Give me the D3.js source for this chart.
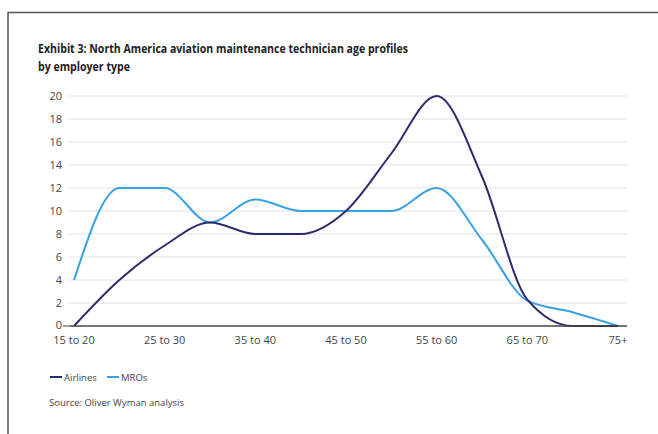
<!DOCTYPE html>
<html>
<head>
<meta charset="utf-8">
<script src="https://cdn.jsdelivr.net/npm/d3@7"></script>
<style>
  body { margin: 0; background: #fff; }
  svg { display: block; font-family: "Open Sans", "Noto Sans", sans-serif; }
</style>
</head>
<body>
<svg id="chart" width="658" height="434"></svg>
<script>
// age bins (every other one gets a label)
var ageBins = ["15 to 20", "20 to 25", "25 to 30", "30 to 35", "35 to 40", "40 to 45",
  "45 to 50", "50 to 55", "55 to 60", "60 to 65", "65 to 70", "70 to 75", "75+"];
var tickLabels = ["15 to 20", "25 to 30", "35 to 40", "45 to 50", "55 to 60", "65 to 70", "75+"];
var airlines = [0, 4, 7, 9, 8, 8, 10, 15, 20, 13, 2.3, 0, 0];
var mros = [4, 12, 12, 9, 11, 10, 10, 10, 12, 7.5, 2.2, 1.2, 0];
var yTicks = [0, 2, 4, 6, 8, 10, 12, 14, 16, 18, 20];

var airlineColour = "#2d2c6c";
var mroColour = "#3aa2e2";

var svg = d3.select("#chart");

// frame
svg.append("path")
  .attr("d", "M8,434 V12.5 H658")
  .attr("fill", "none")
  .attr("stroke", "#555")
  .attr("stroke-width", 1.5);

// title
var title = svg.append("text")
  .attr("x", 38)
  .attr("font-size", 13)
  .attr("font-weight", "bold")
  .attr("fill", "#222");
title.append("tspan").attr("x", 38).attr("y", 53)
  .attr("textLength", 370).attr("lengthAdjust", "spacingAndGlyphs")
  .text("Exhibit 3: North America aviation maintenance technician age profiles");
title.append("tspan").attr("x", 38).attr("y", 71)
  .attr("textLength", 92).attr("lengthAdjust", "spacingAndGlyphs")
  .text("by employer type");

var xScale = d3.scalePoint().domain(ageBins).range([74, 618]);
var yScale = d3.scaleLinear().domain([0, 20]).range([326, 96]);

// gridlines
svg.append("g")
  .selectAll("line")
  .data(yTicks.slice(1))
  .enter()
  .append("line")
  .attr("x1", 68).attr("x2", 627)
  .attr("y1", function (d) { return yScale(d); })
  .attr("y2", function (d) { return yScale(d); })
  .attr("stroke", "#e2e2e2")
  .attr("stroke-width", 1);

// y labels
svg.append("g")
  .selectAll("text")
  .data(yTicks)
  .enter()
  .append("text")
  .attr("x", 62)
  .attr("y", function (d) { return yScale(d) + (d === 0 ? 2.5 : 4); })
  .attr("text-anchor", "end")
  .attr("font-size", 11)
  .attr("fill", "#444")
  .text(function (d) { return d; });

// small tick beside 0
svg.append("line")
  .attr("x1", 63).attr("x2", 70)
  .attr("y1", yScale(0)).attr("y2", yScale(0))
  .attr("stroke", "#444").attr("stroke-width", 1);

// series
var line = d3.line()
  .x(function (d, i) { return xScale(ageBins[i]); })
  .y(function (d) { return yScale(d); })
  .curve(d3.curveMonotoneX);

svg.append("path")
  .datum(mros)
  .attr("d", line)
  .attr("fill", "none")
  .attr("stroke", mroColour)
  .attr("stroke-width", 2);

svg.append("path")
  .datum(airlines)
  .attr("d", line)
  .attr("fill", "none")
  .attr("stroke", airlineColour)
  .attr("stroke-width", 2);

// x axis line
svg.append("line")
  .attr("x1", 70).attr("x2", 627)
  .attr("y1", yScale(0)).attr("y2", yScale(0))
  .attr("stroke", "#444").attr("stroke-width", 1.6);

// x labels
svg.append("g")
  .selectAll("text")
  .data(tickLabels)
  .enter()
  .append("text")
  .attr("x", function (d) { return xScale(d); })
  .attr("y", 344)
  .attr("text-anchor", "middle")
  .attr("font-size", 11)
  .attr("fill", "#444")
  .text(function (d) { return d; });

// legend
var legendItems = [
  { name: "Airlines", colour: airlineColour, x: 50 },
  { name: "MROs", colour: mroColour, x: 107 }
];
var leg = svg.append("g")
  .selectAll("g")
  .data(legendItems)
  .enter()
  .append("g")
  .attr("transform", function (d) { return "translate(" + d.x + ",377)"; });
leg.append("line")
  .attr("x1", 0).attr("x2", 12)
  .attr("stroke", function (d) { return d.colour; })
  .attr("stroke-width", 2);
leg.append("text")
  .attr("x", 14)
  .attr("y", 3.5)
  .attr("font-size", 9.5)
  .attr("fill", "#444")
  .text(function (d) { return d.name; });

// source
svg.append("text")
  .attr("x", 49)
  .attr("y", 406)
  .attr("font-size", 9.5)
  .attr("fill", "#444")
  .text("Source: Oliver Wyman analysis");
</script>
</body>
</html>
